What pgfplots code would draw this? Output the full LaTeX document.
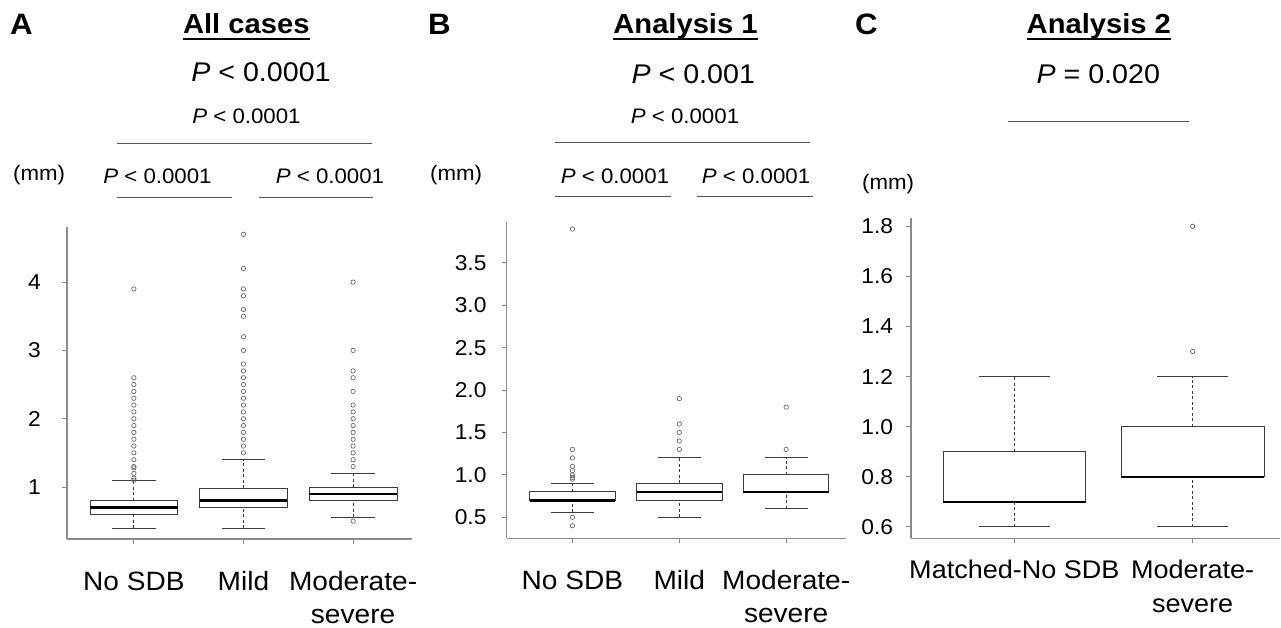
\documentclass[border=0pt]{standalone}
\usepackage{fontspec}
\setmainfont[FakeStretch=1.06]{Liberation Sans}
\usepackage{pgfplots}
\pgfplotsset{compat=1.18}
\usepgfplotslibrary{statistics}

\definecolor{axisgray}{HTML}{8A8A8A}
\definecolor{boxgray}{HTML}{3C3C3C}
\definecolor{outgray}{HTML}{6A6A6A}
\definecolor{bargray}{HTML}{555555}

\pgfplotsset{
  boxplot/draw direction=y,
  boxplot/draw/lower whisker/.code={%
    \draw[boxgray, line width=0.8pt, dash pattern=on 3pt off 2.5pt]
      (boxplot cs:\pgfplotsboxplotvalue{lower whisker})
      -- (boxplot cs:\pgfplotsboxplotvalue{lower quartile});
    \draw[boxgray, line width=0.9pt]
      (boxplot whisker cs:\pgfplotsboxplotvalue{lower whisker},0)
      -- (boxplot whisker cs:\pgfplotsboxplotvalue{lower whisker},1);
  },
  boxplot/draw/upper whisker/.code={%
    \draw[boxgray, line width=0.8pt, dash pattern=on 3pt off 2.5pt]
      (boxplot cs:\pgfplotsboxplotvalue{upper quartile})
      -- (boxplot cs:\pgfplotsboxplotvalue{upper whisker});
    \draw[boxgray, line width=0.9pt]
      (boxplot whisker cs:\pgfplotsboxplotvalue{upper whisker},0)
      -- (boxplot whisker cs:\pgfplotsboxplotvalue{upper whisker},1);
  },
  rbox/.style={
    scale only axis,
    anchor=south west,
    axis x line=bottom, axis y line=left,
    axis line style={-, axisgray, line width=1.3pt},
    tick style={axisgray, line width=1pt},
    tick align=outside, major tick length=5pt,
    xtick={1,2,3},
    /pgf/number format/assume math mode=true,
    yticklabel style={anchor=east, inner sep=0pt, font=\fontsize{21.5}{24}\selectfont},
    xticklabel style={anchor=base, inner sep=0pt, align=center,
      font=\fontsize{26.5}{33}\selectfont, yshift=-79pt},
    boxplot/box extend=0.8,
    boxplot/whisker extend=0.4,
    boxplot/every box/.style={draw=boxgray, fill=white, line width=0.9pt},
    boxplot/every median/.style={black, line width=2.4pt},
    clip=false,
  },
  outl/.style={mark=o, mark size=2.2pt,
    mark options={draw=outgray, line width=0.7pt, solid, fill=none}},
}

\newcommand{\Pit}{\textit{P}}

\begin{document}
\begin{tikzpicture}
\useasboundingbox (0,0) rectangle (1281pt,627pt);

% ---------- panel A ----------
\begin{axis}[rbox, at={(67pt,88pt)}, width=345.3pt, height=312pt,
    xmin=0.39, xmax=3.54, ymin=0.239, ymax=4.807,
    ytick={1,2,3,4},
    yticklabel style={xshift=-21pt},
    xticklabels={{No SDB\\\mbox{}}, {Mild\\\mbox{}}, {Moderate-\\severe}}]
\addplot[outl, boxplot prepared={draw position=1, lower whisker=0.4,
    lower quartile=0.6, median=0.7, upper quartile=0.8, upper whisker=1.1}]
  table[row sep=\\, y index=0] {y\\ 1.1\\ 1.13\\ 1.2\\ 1.28\\ 1.3\\ 1.4\\ 1.5\\ 1.6\\ 1.7\\ 1.8\\ 1.9\\ 2.0\\ 2.1\\ 2.2\\ 2.3\\ 2.4\\ 2.5\\ 2.6\\ 3.9\\};
\addplot[outl, boxplot prepared={draw position=2, lower whisker=0.4,
    lower quartile=0.7, median=0.8, upper quartile=0.98, upper whisker=1.4}]
  table[row sep=\\, y index=0] {y\\ 1.5\\ 1.6\\ 1.7\\ 1.8\\ 1.9\\ 2.0\\ 2.1\\ 2.2\\ 2.3\\ 2.4\\ 2.5\\ 2.6\\ 2.7\\ 2.8\\ 3.0\\ 3.2\\ 3.5\\ 3.6\\ 3.8\\ 3.9\\ 4.2\\ 4.7\\};
\addplot[outl, boxplot prepared={draw position=3, lower whisker=0.56,
    lower quartile=0.8, median=0.9, upper quartile=1.0, upper whisker=1.2}]
  table[row sep=\\, y index=0] {y\\ 0.5\\ 1.3\\ 1.4\\ 1.5\\ 1.6\\ 1.7\\ 1.8\\ 1.9\\ 2.0\\ 2.1\\ 2.2\\ 2.4\\ 2.6\\ 2.7\\ 3.0\\ 4.0\\};
\end{axis}

% ---------- panel B ----------
\begin{axis}[rbox, at={(506.7pt,88.7pt)}, width=339.3pt, height=316.6pt,
    xmin=0.385, xmax=3.56, ymin=0.252, ymax=3.987,
    ytick={0.5,1.0,1.5,2.0,2.5,3.0,3.5},
    yticklabel style={xshift=-15pt, /pgf/number format/.cd, fixed, fixed zerofill, precision=1},
    xticklabels={{No SDB\\\mbox{}}, {Mild\\\mbox{}}, {Moderate-\\severe}}]
\addplot[outl, boxplot prepared={draw position=1, lower whisker=0.56,
    lower quartile=0.7, median=0.7, upper quartile=0.8, upper whisker=0.9}]
  table[row sep=\\, y index=0] {y\\ 0.4\\ 0.5\\ 0.95\\ 0.97\\ 1.0\\ 1.05\\ 1.1\\ 1.2\\ 1.3\\ 3.9\\};
\addplot[outl, boxplot prepared={draw position=2, lower whisker=0.5,
    lower quartile=0.7, median=0.8, upper quartile=0.9, upper whisker=1.2}]
  table[row sep=\\, y index=0] {y\\ 1.3\\ 1.4\\ 1.5\\ 1.6\\ 1.9\\};
\addplot[outl, boxplot prepared={draw position=3, lower whisker=0.6,
    lower quartile=0.8, median=0.8, upper quartile=1.0, upper whisker=1.2}]
  table[row sep=\\, y index=0] {y\\ 1.3\\ 1.8\\};
\end{axis}

% ---------- panel C ----------
\begin{axis}[rbox, at={(911pt,88.7pt)}, width=369pt, height=320pt,
    xmin=0.42, xmax=2.49, ymin=0.554, ymax=1.832,
    xtick={1,2},
    ytick={0.6,0.8,1.0,1.2,1.4,1.6,1.8},
    yticklabel style={xshift=-12.7pt, /pgf/number format/.cd, fixed, fixed zerofill, precision=1},
    xticklabel style={font=\fontsize{25.5}{34}\selectfont, yshift=10.3pt},
    xticklabels={{Matched-No SDB\\\mbox{}}, {Moderate-\\severe}}]
\addplot[outl, boxplot prepared={draw position=1, lower whisker=0.6,
    lower quartile=0.7, median=0.7, upper quartile=0.9, upper whisker=1.2}]
  coordinates {};
\addplot[outl, boxplot prepared={draw position=2, lower whisker=0.6,
    lower quartile=0.8, median=0.8, upper quartile=1.0, upper whisker=1.2}]
  table[row sep=\\, y index=0] {y\\ 1.3\\ 1.8\\};
\end{axis}

% ---------- annotations ----------
\begin{scope}[every node/.style={inner sep=0pt}]
\foreach \x/\l in {10/A, 428/B, 855/C}
  \node[anchor=base west, font=\fontsize{29.5}{32}\selectfont\bfseries] at (\x pt,592pt) {\l};

\node[anchor=base, font=\fontsize{27.5}{30}\selectfont\bfseries] (tA) at (246.3pt,593.7pt) {All cases};
\node[anchor=base, font=\fontsize{27.5}{30}\selectfont\bfseries] (tB) at (685.5pt,593.7pt) {Analysis 1};
\node[anchor=base, font=\fontsize{27.5}{30}\selectfont\bfseries] (tC) at (1098.8pt,593.7pt) {Analysis 2};
\foreach \t in {tA,tB,tC}
  \draw[line width=2.2pt] ([yshift=-5.5pt]\t.base west) -- ([yshift=-5.5pt]\t.base east);

\node[anchor=base, font=\fontsize{27}{30}\selectfont] at (261pt,545pt) {\Pit{} < 0.0001};
\node[anchor=base, font=\fontsize{27}{30}\selectfont] at (693.3pt,543.7pt) {\Pit{} < 0.001};
\node[anchor=base, font=\fontsize{27}{30}\selectfont] at (1098.3pt,543.7pt) {\Pit{} = 0.020};

\node[anchor=base, font=\fontsize{21}{24}\selectfont] at (246.5pt,503.7pt) {\Pit{} < 0.0001};
\node[anchor=base, font=\fontsize{21}{24}\selectfont] at (685pt,503pt) {\Pit{} < 0.0001};

\node[anchor=base, font=\fontsize{21}{24}\selectfont] at (157.5pt,443.7pt) {\Pit{} < 0.0001};
\node[anchor=base, font=\fontsize{21}{24}\selectfont] at (330pt,443.7pt) {\Pit{} < 0.0001};
\node[anchor=base, font=\fontsize{21}{24}\selectfont] at (615pt,443.7pt) {\Pit{} < 0.0001};
\node[anchor=base, font=\fontsize{21}{24}\selectfont] at (756pt,443.7pt) {\Pit{} < 0.0001};

\node[anchor=base west, font=\fontsize{21}{24}\selectfont] at (13pt,446pt) {(mm)};
\node[anchor=base west, font=\fontsize{21}{24}\selectfont] at (430pt,446pt) {(mm)};
\node[anchor=base west, font=\fontsize{21}{24}\selectfont] at (862pt,437pt) {(mm)};
\end{scope}

\begin{scope}[bargray, line width=1.4pt]
\draw (116.7pt,483.7pt) -- (371.7pt,483.7pt);
\draw (116.7pt,429.3pt) -- (231.7pt,429.3pt);
\draw (259.3pt,429.3pt) -- (373.3pt,429.3pt);
\draw (555pt,484.3pt) -- (810pt,484.3pt);
\draw (555pt,430.3pt) -- (670.7pt,430.3pt);
\draw (697.3pt,430.3pt) -- (812.7pt,430.3pt);
\draw (1008.3pt,505.3pt) -- (1189.3pt,505.3pt);
\end{scope}
\end{tikzpicture}
\end{document}
